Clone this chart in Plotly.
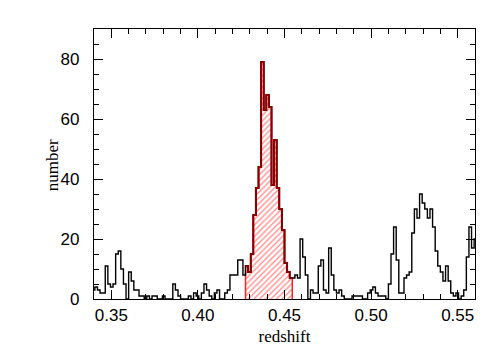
import plotly.graph_objects as go

# ---- data ----
bin_start = 0.339
bin_width = 0.0015
counts = [
    3, 4, 3, 2, 2, 11, 5, 4, 5, 15, 16, 10, 5, 0, 9, 6, 3, 3, 1, 1,
    0, 1, 0, 1, 1, 0, 0, 1, 0, 0, 0, 5, 3, 1, 0, 0, 0, 1, 0, 2,
    1, 0, 2, 5, 3, 1, 0, 2, 3, 0, 0, 2, 3, 8, 8, 8, 13, 13, 8, 11,
    9, 15, 28, 37, 44, 79, 63, 68, 64, 38, 53, 37, 30, 23, 12, 9, 7, 7, 8, 7,
    20, 14, 8, 0, 3, 2, 2, 11, 13, 3, 2, 17, 8, 3, 2, 3, 1, 0, 0, 0,
    1, 1, 1, 1, 0, 0, 2, 3, 4, 2, 1, 1, 1, 0, 5, 15, 24, 13, 2, 2,
    7, 8, 9, 22, 30, 27, 35, 32, 30, 27, 30, 24, 16, 11, 9, 6, 11, 6, 2, 1,
    2, 0, 1, 3, 14, 24, 17, 20,
]
sel_lo = 0.4275   # selected cluster members (red)
sel_hi = 0.4545
x_ticks = [0.35, 0.40, 0.45, 0.50, 0.55]
x_ticklabels = ["0.35", "0.40", "0.45", "0.50", "0.55"]
y_ticks = [0, 20, 40, 60, 80]
y_ticklabels = ["0", "20", "40", "60", "80"]

# ---- build step histogram ----
edges = [bin_start + i * bin_width for i in range(len(counts) + 1)]
hx = edges[:-1] + [edges[-1]]
hy = counts + [counts[-1]]

sel_idx = [i for i in range(len(counts))
           if edges[i] >= sel_lo - 1e-9 and edges[i + 1] <= sel_hi + 1e-9]
rx = [edges[i] for i in sel_idx] + [edges[sel_idx[-1] + 1]]
ry = [counts[i] for i in sel_idx] + [counts[sel_idx[-1]]]

fig = go.Figure()

# red hatched fill of selected members
fig.add_trace(go.Scatter(
    x=[rx[0]] + rx + [rx[-1]],
    y=[0] + ry + [0],
    mode="lines", line_shape="hv",
    line=dict(color="#ff2020", width=1.5),
    fill="toself", fillcolor="rgba(0,0,0,0)",
    fillpattern=dict(shape="/", fgcolor="#ff2020", bgcolor="white",
                     size=4, solidity=0.35),
    hoverinfo="skip", showlegend=False,
))

# full histogram (black)
fig.add_trace(go.Scatter(
    x=hx, y=hy, mode="lines", line_shape="hv",
    line=dict(color="black", width=1.4),
    hoverinfo="skip", showlegend=False,
))

# dark red outline on top of selected part
fig.add_trace(go.Scatter(
    x=rx, y=ry, mode="lines", line_shape="hv",
    line=dict(color="#8b0000", width=2),
    hoverinfo="skip", showlegend=False,
))

axis_common = dict(
    showline=True, linecolor="black", linewidth=1.3, mirror="ticks",
    ticks="inside", tickcolor="black", tickwidth=1.2, ticklen=9,
    showgrid=False, zeroline=False,
    tickfont=dict(family="Liberation Sans, Arial, sans-serif", size=17, color="black"),
)

title_font = dict(family="Liberation Serif, Times New Roman, serif", size=17, color="black")

fig.update_xaxes(
    range=[0.34, 0.56], tickvals=x_ticks, ticktext=x_ticklabels,
    minor=dict(dtick=0.01, tick0=0.34, ticks="inside", ticklen=5, tickcolor="black", tickwidth=1),
    title=dict(text="redshift", font=title_font, standoff=6),
    **axis_common,
)
fig.update_yaxes(
    range=[0, 90], tickvals=y_ticks, ticktext=y_ticklabels,
    minor=dict(dtick=5, tick0=0, ticks="inside", ticklen=5, tickcolor="black", tickwidth=1),
    ticklabelstandoff=10,
    **axis_common,
)

fig.add_annotation(
    text="number", textangle=-90, font=title_font,
    xref="paper", yref="paper", x=-0.110, y=0.496,
    xanchor="center", yanchor="middle", showarrow=False,
)

# page body has an 8px default margin; compensate so the plot box lands
# at x 94..475, y 29..299 of the 504x359 window
fig.update_layout(
    width=496, height=351,
    margin=dict(l=86, r=29, t=21, b=60),
    paper_bgcolor="white", plot_bgcolor="white",
    showlegend=False,
)

fig.write_html("out.html")
